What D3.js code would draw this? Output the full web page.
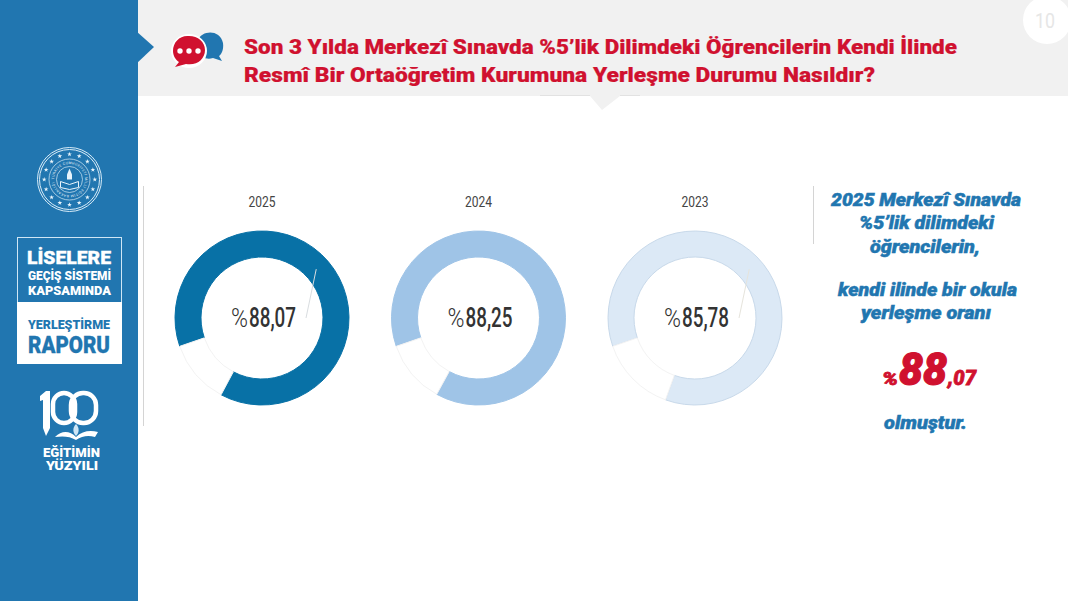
<!DOCTYPE html>
<html>
<head>
<meta charset="utf-8">
<script src="https://cdn.jsdelivr.net/npm/d3@7"></script>
<style>
  html, body { margin: 0; padding: 0; background: #fff; overflow: hidden; }
  svg { display: block; }
</style>
</head>
<body>
<svg id="chart" width="1068" height="601"></svg>
<script>
// values
const years = ["2025", "2024", "2023"];
const placedShare = [88.07, 88.25, 85.78];
const otherShare = [11.93, 11.75, 14.22];
const shareLabels = ["88,07", "88,25", "85,78"];
const ringColors = ["#0871a6", "#9fc4e7", "#dce9f6"];
const ringStrokes = ["#0871a6", "#9fc4e7", "#c8d9ea"];

const titleLines = [
  "Son 3 Yılda Merkezî Sınavda %5’lik Dilimdeki Öğrencilerin Kendi İlinde",
  "Resmî Bir Ortaöğretim Kurumuna Yerleşme Durumu Nasıldır?"
];

const BLUE = "#2176b0";
const RED = "#d0112f";

const svg = d3.select("#chart");

// small helper, text fitted to the width measured on the reference
function label(parent, str, x, y, width, opts) {
  const o = opts || {};
  return parent.append("text")
    .attr("x", x).attr("y", y)
    .attr("text-anchor", o.anchor || "start")
    .attr("textLength", width)
    .attr("lengthAdjust", "spacingAndGlyphs")
    .attr("font-family", o.family || "Roboto")
    .attr("font-size", o.size || 14)
    .attr("font-weight", o.weight || 400)
    .attr("font-style", o.style || "normal")
    .attr("fill", o.fill || "#333")
    .attr("stroke", o.heavy ? (o.fill || "#333") : "none")
    .attr("stroke-width", o.heavy || 0)
    .text(str);
}

// ---------- header band ----------
svg.append("rect").attr("x", 138).attr("y", 0).attr("width", 930).attr("height", 96).attr("fill", "#f1f1f1");
svg.append("path").attr("d", "M590,96 L602,110 L620,96 Z").attr("fill", "#f1f1f1");
svg.append("path").attr("d", "M540,95.5 L590,95.5 M620,95.5 L640,95.5").attr("stroke", "#e2e2e2").attr("fill", "none");
svg.append("circle").attr("cx", 1047).attr("cy", 20).attr("r", 24).attr("fill", "#fff");
label(svg, "10", 1035, 28, 20, { size: 21, fill: "#e6e6e6" });

titleLines.forEach((line, i) => {
  label(svg, line, 244, i === 0 ? 54 : 82, i === 0 ? 713 : 631, { size: 21, weight: 900, fill: RED, heavy: 0.2 });
});

// speech bubbles
const bubbles = svg.append("g");
bubbles.append("path")
  .attr("d", "M198,40 C202,30 220,29 223,43 C224,50 221,55 219,56 L222,61 L213,58 C206,60 201,57 199,52 Z")
  .attr("fill", BLUE);
bubbles.append("ellipse").attr("cx", 189).attr("cy", 51).attr("rx", 18).attr("ry", 17).attr("fill", "#fff");
bubbles.append("path")
  .attr("d", "M189,36 C180,35 173,42 173,51 C173,56 176,60 179,62 L175,67 L186,64 C197,66 205,59 205,50 C205,42 198,36 189,36 Z")
  .attr("fill", RED);
[180, 189, 198].forEach(x => {
  bubbles.append("circle").attr("cx", x).attr("cy", 51).attr("r", 2.7).attr("fill", "#fff");
});

// ---------- left side bar ----------
svg.append("rect").attr("x", 0).attr("y", 0).attr("width", 138).attr("height", 601).attr("fill", BLUE);
svg.append("path").attr("d", "M136,31 L154,47 L136,64 Z").attr("fill", BLUE);

// seal
const seal = svg.append("g").attr("transform", "translate(69.5,179.5)");
[32, 30, 20.5, 13].forEach(r => {
  seal.append("circle").attr("r", r).attr("fill", "none").attr("stroke", "#d8ecf8").attr("stroke-width", r > 29 ? 1 : 0.7);
});
d3.range(16).forEach(i => {
  const a = i / 16 * 2 * Math.PI;
  seal.append("path")
    .attr("d", d3.symbol(d3.symbolStar, 7)())
    .attr("transform", `translate(${25.3 * Math.sin(a)},${-25.3 * Math.cos(a)})`)
    .attr("fill", "#e8f4fb");
});
seal.append("path").attr("id", "sealArc").attr("fill", "none")
  .attr("d", "M-15.5,0 A15.5,15.5 0 1 1 15.5,0 A15.5,15.5 0 1 1 -15.5,0");
seal.append("text").attr("font-size", 3.4).attr("font-family", "Roboto").attr("fill", "#e8f4fb")
  .append("textPath").attr("href", "#sealArc").attr("textLength", 94)
  .text("TÜRKİYE CUMHURİYETİ MİLLİ EĞİTİM BAKANLIĞI");
seal.append("path").attr("d", "M0,-11 L2.5,-5 L2.5,0 L-2.5,0 L-2.5,-5 Z").attr("fill", "#e8f4fb");
seal.append("path").attr("d", "M-9,2 L0,5 L9,2 L9,8 L0,10 L-9,8 Z").attr("fill", "none").attr("stroke", "#e8f4fb").attr("stroke-width", 1);

// report box
svg.append("rect").attr("x", 17.5).attr("y", 237.5).attr("width", 104).attr("height", 65).attr("fill", BLUE).attr("stroke", "#cfe6f5");
svg.append("rect").attr("x", 17).attr("y", 302).attr("width", 105).attr("height", 62).attr("fill", "#fff");
label(svg, "LİSELERE", 27, 264, 84, { size: 19, weight: 900, fill: "#fff", heavy: 0.3 });
label(svg, "GEÇİŞ SİSTEMİ", 28, 280, 83, { size: 13, weight: 900, fill: "#fff" });
label(svg, "KAPSAMINDA", 28, 295, 83, { size: 13, weight: 900, fill: "#fff" });
label(svg, "YERLEŞTİRME", 28, 329, 82, { size: 13, weight: 900, fill: BLUE });
label(svg, "RAPORU", 28, 353, 82, { size: 23, weight: 900, fill: BLUE, heavy: 0.3 });

// 100 logo
const logo = svg.append("g");
logo.append("path").attr("d", "M40,396 L46,391 L50,391 L50,428 L46,436 L43,428 L43,400 L40,401 Z").attr("fill", "#fff");
logo.append("rect").attr("x", 53).attr("y", 393).attr("width", 22).attr("height", 30).attr("rx", 11)
  .attr("fill", "none").attr("stroke", "#fff").attr("stroke-width", 4.5);
logo.append("rect").attr("x", 71).attr("y", 393).attr("width", 25).attr("height", 30).attr("rx", 12)
  .attr("fill", "none").attr("stroke", "#fff").attr("stroke-width", 4.5);
logo.append("path").attr("d", "M55,437 C62,430 70,431 76,437 C82,431 90,430 98,432 L95,437 C88,435 82,436 76,440 C70,436 62,436 55,437 Z").attr("fill", "#fff");
logo.append("path").attr("d", "M76,424 C72,428 73,433 76,436 C79,433 80,428 76,424 Z").attr("fill", "#cfe6f5");
label(svg, "EĞİTİMİN", 43, 457, 57, { size: 12, weight: 900, fill: "#fff" });
label(svg, "YÜZYILI", 46, 470, 52, { size: 12, weight: 900, fill: "#fff" });

// ---------- donuts ----------
const centerScale = d3.scalePoint().domain(years).range([262, 695]);
const outerR = 87;
const innerR = 61;
const cy = 318;

// the rings start in the lower left and run clockwise
const pie = d3.pie().sort(null).startAngle(251 * Math.PI / 180).endAngle((251 + 360) * Math.PI / 180);
const arc = d3.arc().innerRadius(innerR).outerRadius(outerR);

years.forEach((year, i) => {
  const cx = centerScale(year);
  const g = svg.append("g").attr("transform", `translate(${cx},${cy})`);
  const slices = pie([placedShare[i], otherShare[i]]);

  g.selectAll("path.slice")
    .data(slices)
    .enter()
    .append("path")
    .attr("class", "slice")
    .attr("d", arc)
    .attr("fill", (d, k) => k === 0 ? ringColors[i] : "#fff")
    .attr("stroke", (d, k) => k === 0 ? ringStrokes[i] : "#f3f3f3")
    .attr("stroke-width", 1);

  // thin leader line left over in the 2025 and 2023 rings
  if (i !== 1) {
    const a = 48 * Math.PI / 180;
    g.append("line")
      .attr("x1", 73 * Math.sin(a)).attr("y1", -73 * Math.cos(a))
      .attr("x2", 44).attr("y2", 0)
      .attr("stroke", i === 0 ? "#d9dde0" : "#e6e4dc")
      .attr("stroke-width", 1);
  }

  label(g, year, 0, -111, 27, { anchor: "middle", size: 15, fill: "#444" });

  label(g, "%", -31, 9, 17, { size: 25, weight: 300, fill: "#333" });
  label(g, shareLabels[i], -13, 9, 47, { size: 27, weight: 500, fill: "#333" });
});

// separators
svg.append("line").attr("x1", 143.5).attr("x2", 143.5).attr("y1", 186).attr("y2", 426).attr("stroke", "#d4d4d4");
svg.append("line").attr("x1", 813.5).attr("x2", 813.5).attr("y1", 186).attr("y2", 244).attr("stroke", "#d4d4d4");

// ---------- right note ----------
const note = { size: 18, weight: 900, style: "italic", fill: BLUE, heavy: 0.5 };
label(svg, "2025 Merkezî Sınavda", 831, 206, 190, note);
label(svg, "%5’lik dilimdeki", 859, 229, 135, note);
label(svg, "öğrencilerin,", 870, 253, 110, note);
label(svg, "kendi ilinde bir okula", 838, 296, 179, note);
label(svg, "yerleşme oranı", 861, 319, 130, note);
label(svg, "olmuştur.", 884, 429, 83, note);

const big = { weight: 900, style: "italic", fill: RED, heavy: 0.8 };
label(svg, "%", 882, 385, 16, { ...big, size: 18 });
label(svg, "88", 899, 385, 48, { ...big, size: 44, heavy: 1.2 });
label(svg, ",07", 948, 385, 28, { ...big, size: 21 });
</script>
</body>
</html>
